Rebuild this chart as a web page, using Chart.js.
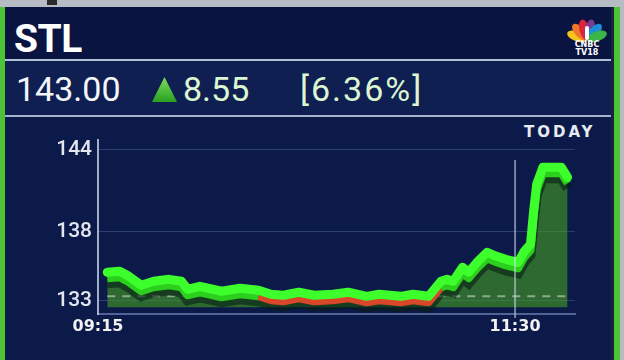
<!DOCTYPE html>
<html><head><meta charset="utf-8">
<script src="https://cdn.jsdelivr.net/npm/chart.js@4"></script>
<style>
html,body{margin:0;padding:0;}
body{width:624px;height:360px;overflow:hidden;position:relative;background:#0b1a49;font-family:Roboto,sans-serif;}
.a{position:absolute;}
.petal{position:absolute;left:582px;top:19px;width:10px;height:21px;border-radius:50%;transform-origin:50% 100%;}
</style></head><body>
<div class="a" style="left:0;top:0;width:624px;height:7px;background:#b7bbc3"></div>
<div class="a" style="left:47px;top:0;width:10px;height:5px;background:#2a2a2a"></div>
<div class="a" style="left:5px;top:7px;width:606px;height:52px;background:#0a1440"></div>
<div class="a" style="left:5px;top:59px;width:606px;height:2px;background:#b4c0d6"></div>
<div class="a" style="left:5px;top:61px;width:606px;height:54px;background:#0f1f52"></div>
<div class="a" style="left:5px;top:115px;width:606px;height:2px;background:#a3b3cf"></div>
<div class="a" style="left:0;top:7px;width:5px;height:353px;background:#4dc436"></div>
<div class="a" style="left:611px;top:7px;width:3px;height:353px;background:#17243f"></div>
<div class="a" style="left:614px;top:7px;width:6px;height:353px;background:#4dc436"></div>
<div class="a" style="left:620px;top:0;width:4px;height:360px;background:#b7bbc3"></div>

<div class="a" style="left:14px;top:20px;font:700 39px/1 Roboto;color:#ffffff;letter-spacing:-0.5px">STL</div>
<div class="a" style="left:16px;top:72px;font:400 34px/1 Roboto;color:#f4f6f8">143.00</div>
<svg class="a" style="left:151px;top:76px" width="27" height="27" viewBox="0 0 27 27">
<defs><linearGradient id="tg" x1="0" y1="0" x2="0" y2="1"><stop offset="0" stop-color="#7ee05a"/><stop offset="1" stop-color="#28a022"/></linearGradient></defs>
<polygon points="13.5,1 26,26 1,26" fill="url(#tg)"/></svg>
<div class="a" style="left:183px;top:72px;font:400 34px/1 Roboto;color:#dcf6d2">8.55</div>
<div class="a" style="left:300px;top:72px;font:400 34px/1 Roboto;color:#dcf6d2;letter-spacing:2px">[6.36%]</div>
<div class="a" style="left:524px;top:125px;font:700 15px/1 'DejaVu Sans';color:#e8ecf2;letter-spacing:3px">TODAY</div>

<div class="petal" style="background:#f6c21c;transform:rotate(-70deg)"></div>
<div class="petal" style="background:#f0772a;transform:rotate(-42deg)"></div>
<div class="petal" style="background:#e0253a;transform:rotate(-14deg)"></div>
<div class="petal" style="background:#7b3b93;transform:rotate(14deg)"></div>
<div class="petal" style="background:#1c8fd6;transform:rotate(42deg)"></div>
<div class="petal" style="background:#3bb54a;transform:rotate(70deg)"></div>
<div class="a" style="left:585px;top:26px;width:4px;height:14px;background:#ffffff;border-radius:2px"></div>
<div class="a" style="left:567px;top:41px;width:40px;text-align:center;font:700 8px/1 'DejaVu Sans';color:#ffffff">CNBC</div>
<div class="a" style="left:567px;top:49px;width:40px;text-align:center;font:700 8px/1 'DejaVu Sans';color:#ffffff">TV18</div>

<canvas id="c" width="624" height="360" style="position:absolute;left:0;top:0;z-index:5"></canvas>
<script>
const times = ["09:18","09:22","09:25","09:29","09:33","09:38","09:42","09:44","09:48","09:55","10:01","10:07","10:11","10:15","10:20","10:25","10:31","10:36","10:42","10:46","10:53","10:57","11:02","11:06","11:08","11:10","11:13","11:15","11:18","11:21","11:24","11:27","11:31","11:33","11:35","11:36","11:37","11:39","11:42","11:45","11:47"];
const prices = [135.05,135.12,134.75,134.10,134.39,134.53,134.39,133.80,134.02,133.66,133.88,133.73,133.44,133.37,133.59,133.37,133.44,133.59,133.29,133.44,133.29,133.44,133.29,134.39,134.53,134.39,135.41,135.05,135.85,136.50,136.21,135.99,135.77,136.58,137.09,139.50,141.47,142.71,142.71,142.71,141.98];
const xTickTimes = ["09:15","11:30"];
const yTickValues = [133,138,144];
const prevCloseLevel = 133.3;
const redBelow = 133.62;

function mins(t){const p=t.split(':').map(Number);return (p[0]-9)*60+(p[1]-15);}
const pts = times.map((t,i)=>({x:mins(t),y:prices[i]}));

const fx = {
  id:'fx',
  beforeDatasetDraw(chart,args){
    const ds=chart.data.datasets[args.index];
    chart.ctx.save();
    if(ds.shiftY) chart.ctx.translate(0,ds.shiftY);
  },
  afterDatasetDraw(chart,args){
    const ctx=chart.ctx;
    ctx.restore();
    if(args.index===3){
      const xs=chart.scales.x, ys=chart.scales.y;
      const y=ys.getPixelForValue(prevCloseLevel);
      ctx.save();
      ctx.strokeStyle='rgba(205,215,205,0.6)';
      ctx.lineWidth=2;
      ctx.setLineDash([8,7]);
      ctx.beginPath();
      ctx.moveTo(xs.getPixelForValue(mins(times[0])),y);
      ctx.lineTo(chart.chartArea.right-3,y);
      ctx.stroke();
      ctx.restore();
    }
  },
  afterDatasetsDraw(chart){
    const ctx=chart.ctx, xs=chart.scales.x, a=chart.chartArea;
    const x=xs.getPixelForValue(mins(xTickTimes[1]));
    ctx.save();
    ctx.strokeStyle='rgba(210,220,235,0.55)';
    ctx.lineWidth=2;
    ctx.beginPath();
    ctx.moveTo(x,a.top+20);
    ctx.lineTo(x,a.bottom+4);
    ctx.stroke();
    ctx.restore();
  }
};

new Chart(document.getElementById('c'),{
  type:'line',
  data:{datasets:[
    {label:'main',data:pts,borderColor:'#3dff2b',borderWidth:9,pointRadius:0,fill:false,order:0,borderJoinStyle:'round',borderCapStyle:'round'},
    {label:'side',data:pts,borderColor:'#2ccf1e',borderWidth:8,pointRadius:0,fill:false,order:1,shiftY:6,borderJoinStyle:'round',
      segment:{borderColor:c=>Math.min(c.p0.parsed.y,c.p1.parsed.y)<redBelow?'#d9472b':'#2ccf1e'}},
    {label:'shadow',data:pts,borderColor:'rgba(6,30,18,0.6)',borderWidth:10,pointRadius:0,fill:false,order:2,shiftY:11},
    {label:'area',data:pts,borderWidth:0,borderColor:'rgba(0,0,0,0)',backgroundColor:'rgba(68,158,34,0.6)',pointRadius:0,fill:{value:132.5},order:3}
  ]},
  options:{
    responsive:false,animation:false,devicePixelRatio:1,
    layout:{padding:{top:140,right:49,left:0,bottom:0}},
    plugins:{legend:{display:false},tooltip:{enabled:false}},
    scales:{
      x:{type:'linear',min:0,max:154.4,
        afterFit(s){s.height=46;},
        afterBuildTicks(s){s.ticks=xTickTimes.map(t=>({value:mins(t)}));},
        ticks:{autoSkip:false,maxRotation:0,padding:3,color:'#f2f2f2',font:{family:'DejaVu Sans',size:16,weight:'bold'},
          callback:v=>{const t=xTickTimes.find(t=>mins(t)===v);return t||'';}},
        grid:{display:false,drawTicks:false},
        border:{display:true,color:'rgba(140,160,210,0.55)',width:2}
      },
      y:{type:'linear',min:132.0,max:144.7,
        afterFit(s){s.width=98;},
        afterBuildTicks(s){s.ticks=yTickValues.map(v=>({value:v}));},
        ticks:{padding:6,color:'#e2e6ee',font:{family:'Roboto',size:21,weight:'500'},callback:v=>String(v)},
        grid:{color:'rgba(110,135,190,0.35)',lineWidth:1,drawTicks:false},
        border:{display:true,color:'rgba(190,200,225,0.85)',width:2}
      }
    }
  },
  plugins:[fx]
});
</script>
</body></html>
